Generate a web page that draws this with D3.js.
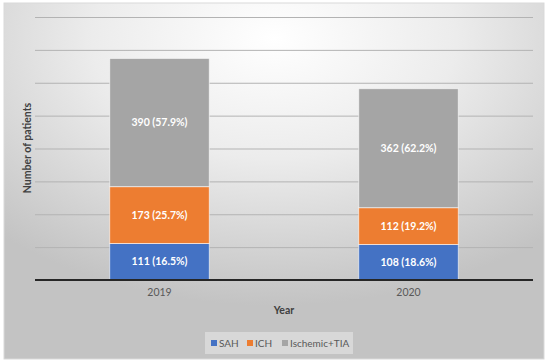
<!DOCTYPE html>
<html>
<head>
<meta charset="utf-8">
<script src="https://cdn.jsdelivr.net/npm/d3@7"></script>
<style>
  body { margin: 0; background: #fff; }
  text { font-family: Lato, "Open Sans", sans-serif; }
</style>
</head>
<body>
<div id="chart"></div>
<script>
// dados
const years = ["2019", "2020"];
const series = ["SAH", "ICH", "Ischemic+TIA"];
const sah = [111, 108];
const ich = [173, 112];
const isch = [390, 362];
const pctSah = ["16.5%", "18.6%"];
const pctIch = ["25.7%", "19.2%"];
const pctIsch = ["57.9%", "62.2%"];
const yTicks = [0, 100, 200, 300, 400, 500, 600, 700, 800];
const colors = ["#4472C4", "#ED7D31", "#A5A5A5"];

const W = 550, H = 364;
const margin = {top: 17, right: 17, bottom: 84, left: 35},
  width = 533 - margin.left,
  height = 280 - margin.top;

const svg = d3.select("#chart")
  .append("svg")
    .attr("width", W)
    .attr("height", H);

// fundo com gradiente
const defs = svg.append("defs");
const grad = defs.append("radialGradient")
  .attr("id", "bg")
  .attr("cx", "50%").attr("cy", "10%")
  .attr("r", "75%")
  .attr("fx", "50%").attr("fy", "10%");
grad.append("stop").attr("offset", "0%").attr("stop-color", "#ffffff");
grad.append("stop").attr("offset", "45%").attr("stop-color", "#ececec");
grad.append("stop").attr("offset", "100%").attr("stop-color", "#c3c3c3");

svg.append("rect")
  .attr("x", 4).attr("y", 3)
  .attr("width", 540).attr("height", 356)
  .attr("fill", "url(#bg)")
  .attr("stroke", "#d9d9d9")
  .attr("stroke-width", 1);

const g = svg.append("g")
  .attr("transform", `translate(${margin.left},${margin.top})`);

// escalas
const x = d3.scaleBand()
  .domain(years)
  .range([0, width])
  .paddingInner(0.6)
  .paddingOuter(0.3);

const y = d3.scaleLinear()
  .domain([0, 800])
  .range([height, 0]);

// linhas de grade
g.append("g")
  .call(d3.axisLeft(y).tickValues(yTicks).tickSize(-width).tickFormat(""))
  .call(s => s.select(".domain").remove())
  .selectAll("line")
    .attr("stroke", "#b3b3b3")
    .attr("stroke-width", 1);

// montando as pilhas
const rows = years.map((yr, i) => ({
  year: yr, SAH: sah[i], ICH: ich[i], "Ischemic+TIA": isch[i],
  pct: [pctSah[i], pctIch[i], pctIsch[i]]
}));
const stacked = d3.stack().keys(series)(rows);

const layers = g.selectAll(".layer")
  .data(stacked)
  .join("g")
    .attr("class", "layer")
    .attr("fill", (d, i) => colors[i]);

layers.selectAll("rect")
  .data(d => d)
  .join("rect")
    .attr("x", d => x(d.data.year))
    .attr("width", x.bandwidth())
    .attr("y", d => y(d[1]))
    .attr("height", d => y(d[0]) - y(d[1]))
    .attr("stroke", "#ffffff")
    .attr("stroke-opacity", 0.6)
    .attr("stroke-width", 1);

// rótulos dos valores
layers.each(function(layer, li) {
  d3.select(this).selectAll("text")
    .data(layer)
    .join("text")
      .attr("x", d => x(d.data.year) + x.bandwidth() / 2)
      .attr("y", d => y((d[0] + d[1]) / 2))
      .attr("dy", "0.35em")
      .attr("text-anchor", "middle")
      .attr("fill", "#ffffff")
      .attr("font-size", "10.5px")
      .attr("font-weight", "bold")
      .text(d => `${d.data[layer.key]} (${d.data.pct[li]})`);
});

// eixo x
const xAxis = g.append("g")
  .attr("transform", `translate(0,${height})`)
  .call(d3.axisBottom(x).tickSize(0).tickPadding(9));
xAxis.select(".domain")
  .attr("stroke", "#262626")
  .attr("stroke-width", 1.8)
  .attr("d", `M0,0H${width}`);
xAxis.selectAll("text")
  .attr("fill", "#595959")
  .attr("font-size", "10.5px")
  .style("font-family", "Lato, sans-serif");

// título eixo x
svg.append("text")
  .attr("x", margin.left + width / 2)
  .attr("y", 314)
  .attr("text-anchor", "middle")
  .attr("fill", "#404040")
  .attr("font-size", "10.5px")
  .attr("font-weight", "bold")
  .text("Year");

// título eixo y
svg.append("text")
  .attr("transform", `translate(31,148) rotate(-90)`)
  .attr("text-anchor", "middle")
  .attr("fill", "#404040")
  .attr("font-size", "10.5px")
  .attr("font-weight", "bold")
  .text("Number of patients");

// legenda
svg.append("rect")
  .attr("x", 205).attr("y", 332)
  .attr("width", 148).attr("height", 22)
  .attr("fill", "#f2f2f2")
  .attr("fill-opacity", 0.45);

const legX = [211, 247, 282];
const leg = svg.selectAll(".leg")
  .data(series)
  .join("g")
    .attr("class", "leg")
    .attr("transform", (d, i) => `translate(${legX[i]},343)`);
leg.append("rect")
  .attr("x", 0).attr("y", -3)
  .attr("width", 6).attr("height", 6)
  .attr("fill", (d, i) => colors[i]);
leg.append("text")
  .attr("x", 8)
  .attr("dy", "0.35em")
  .attr("fill", "#595959")
  .attr("font-size", "10px")
  .text(d => d);
</script>
</body>
</html>
